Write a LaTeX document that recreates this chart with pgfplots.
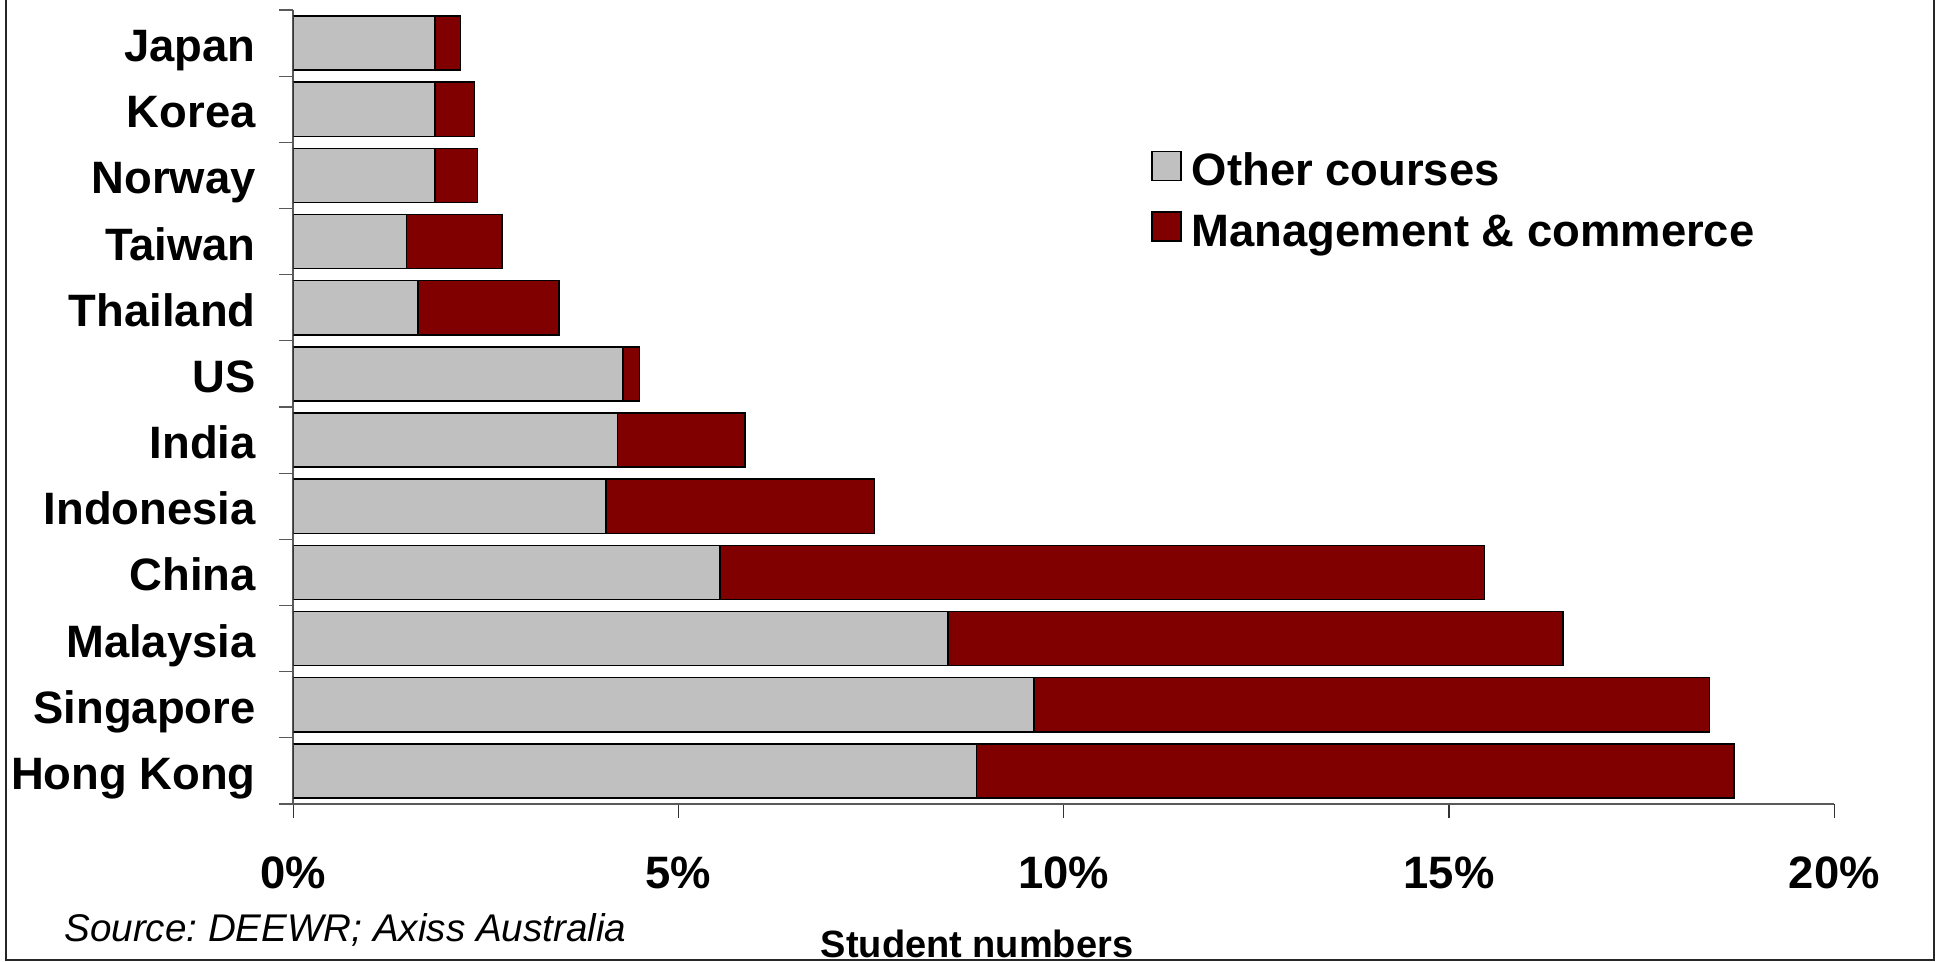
\documentclass[border=0pt]{standalone}
\usepackage{pgfplots}
\pgfplotsset{compat=1.18}
\usepackage{fontspec}
\setmainfont{Liberation Sans}
\frenchspacing

\definecolor{othergray}{HTML}{C0C0C0}
\definecolor{mgmtred}{HTML}{800000}

\newcommand{\labelfont}{\bfseries\fontsize{22.7}{27}\selectfont}

\begin{document}
\begin{tikzpicture}
\useasboundingbox (0,0) rectangle (969.5pt,-481pt);
\begin{axis}[
  at={(146.65pt,-402pt)}, anchor=south west,
  scale only axis, width=770.5pt, height=397pt,
  xbar stacked, bar width=0.82,
  xmin=0, xmax=20, ymin=-0.5, ymax=11.5,
  axis lines*=left,
  axis line style={black!65, line width=0.9pt},
  xtick={0,5,10,15,20},
  xticklabels={0\%,5\%,10\%,15\%,20\%},
  ytick={0,...,11},
  yticklabels={Hong Kong,Singapore,Malaysia,China,Indonesia,India,US,Thailand,Taiwan,Norway,Korea,Japan},
  minor ytick={-0.5,0.5,...,11.5},
  tick align=outside,
  major tick length=7pt, minor tick length=7pt,
  major y tick style={draw=none},
  major x tick style={black!80, line width=0.6pt},
  minor y tick style={black!65, line width=0.6pt},
  xticklabel style={font=\labelfont, inner sep=0pt, anchor=north, yshift=-19.1pt},
  yticklabel style={font=\labelfont, inner sep=0pt, anchor=base east, xshift=-11.65pt, yshift=-9.25pt},
  xlabel={Student numbers},
  xlabel style={at={(axis description cs:0.4437,-0.1763)}, anchor=center,
    font=\bfseries\fontsize{19}{22}\selectfont, inner sep=0pt, text depth=0pt},
  legend cell align=left,
  legend style={at={(0.5566,0.8235)}, anchor=north west, draw=none, fill=none,
    inner sep=0pt, font=\labelfont, row sep=8.6pt, column sep=5pt,
    nodes={inner sep=0pt, text height=16pt, text depth=4pt}},
  legend image code/.code={\draw[#1, line width=0.75pt] (0pt,-3.2pt) rectangle (14.5pt,11.3pt);},
]
% Other courses
\addplot[fill=othergray, draw=black, line width=0.75pt] coordinates {
  (8.87,0) (9.61,1) (8.50,2) (5.54,3) (4.06,4) (4.21,5)
  (4.28,6) (1.62,7) (1.47,8) (1.84,9) (1.84,10) (1.84,11)};
% Management & commerce
\addplot[fill=mgmtred, draw=black, line width=0.75pt] coordinates {
  (9.83,0) (8.77,1) (7.98,2) (9.92,3) (3.48,4) (1.65,5)
  (0.21,6) (1.83,7) (1.24,8) (0.55,9) (0.51,10) (0.33,11)};
\legend{Other courses, Management \& commerce}
\end{axis}
% frame around the figure
\draw[black!85, line width=1pt] (3pt,0pt) -- (3pt,-480pt) -- (967pt,-480pt) -- (967pt,0pt);
\node[anchor=west, inner sep=0pt, font=\itshape\fontsize{19.3}{22}\selectfont]
  at (32pt,-465pt) {Source: DEEWR; Axiss Australia};
\end{tikzpicture}
\end{document}
